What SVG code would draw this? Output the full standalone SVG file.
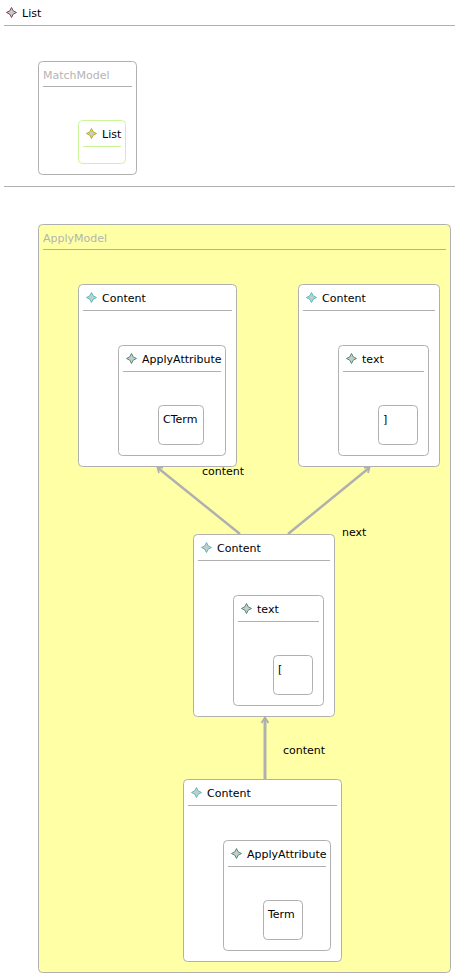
<svg xmlns="http://www.w3.org/2000/svg" width="456" height="979" viewBox="0 0 456 979">
<style>
text{font-family:"DejaVu Sans",Verdana,sans-serif;font-size:11px;fill:#000}
text.dim{fill:#b4b4b4}
.box{fill:#fff;stroke:#b0b0b0;stroke-width:1}
.sep{stroke:#b0b0b0;stroke-width:1;fill:none}
.edge{stroke:#b0b0b0;stroke-width:2.500;fill:none}
.head{stroke:#b0b0b0;stroke-width:1.800;fill:none}
.star{fill:#c4cccc;stroke-width:1}
</style>
<defs>
<path id="star" d="M0-5L1.700-1.700 5 0 1.700 1.700 0 5-1.700 1.700-5 0-1.700-1.700Z"/>
</defs>
<rect width="456" height="979" fill="#fff"/>
<g id="header">
<use href="#star" x="11.500" y="12.500" class="star" stroke="#8c3a5e"/>
<text x="22" y="17">List</text>
<path class="sep" d="M4 25.500H455M4 186.500H455"/>
</g>
<g id="MatchModel">
<rect class="box" x="38.500" y="61.500" width="98" height="113" rx="4"/>
<text class="dim" x="43" y="79">MatchModel</text>
<path class="sep" d="M43 86.500H132"/>
</g>
<g id="MatchList">
<rect x="78.500" y="120.500" width="47" height="43" rx="4" fill="#fff" stroke="#ccf59a"/>
<use href="#star" x="91.500" y="133.500" class="star" stroke="#b5b02a"/>
<text x="102" y="138">List</text>
<path d="M83 146.500H121" fill="none" stroke="#ccf59a"/>
</g>
<g id="ApplyModel">
<rect x="38.500" y="224.500" width="412" height="748" rx="4" fill="#ffffa6" stroke="#b0b0b0"/>
<text class="dim" x="43" y="242">ApplyModel</text>
<path class="sep" d="M43 249.500H446"/>
</g>
<g id="connectors">
<path class="edge" d="M240 534L158 468M288 534L369 468"/>
<path class="edge" stroke-width="3" style="stroke-width:3" d="M265 779V719"/>
<path class="head" d="M163 467.500L157.500 467.500 159 473M364 467.500L369.500 467.500 368 473M261.500 723L265 717.500 268.500 723"/>
</g>
<g id="Content1">
<rect class="box" x="78.500" y="284.500" width="158" height="182" rx="4"/>
<use href="#star" x="91.500" y="297.500" class="star" stroke="#5fbcbc"/>
<text x="102" y="302">Content</text>
<path class="sep" d="M83 310.500H232"/>
</g>
<g id="ApplyAttribute1">
<rect class="box" x="118.500" y="345.500" width="107" height="110" rx="4"/>
<use href="#star" x="131.500" y="358.500" class="star" stroke="#4f8f7c"/>
<text x="142" y="363">ApplyAttribute</text>
<path class="sep" d="M123 371.500H221"/>
</g>
<g id="CTerm">
<rect class="box" x="158.500" y="405.500" width="45" height="39" rx="4"/>
<text x="163" y="423">CTerm</text>
</g>
<g id="Content2">
<rect class="box" x="298.500" y="284.500" width="141" height="182" rx="4"/>
<use href="#star" x="311.500" y="297.500" class="star" stroke="#5fbcbc"/>
<text x="322" y="302">Content</text>
<path class="sep" d="M303 310.500H435"/>
</g>
<g id="text1">
<rect class="box" x="338.500" y="345.500" width="90" height="110" rx="4"/>
<use href="#star" x="351.500" y="358.500" class="star" stroke="#4f8f7c"/>
<text x="362" y="363">text</text>
<path class="sep" d="M343 371.500H424"/>
</g>
<g id="closeBracket">
<rect class="box" x="378.500" y="405.500" width="39" height="39" rx="4"/>
<text x="383" y="423">]</text>
</g>
<g id="Content3">
<rect class="box" x="193.500" y="534.500" width="141" height="182" rx="4"/>
<use href="#star" x="206.500" y="547.500" class="star" stroke="#5fbcbc"/>
<text x="217" y="552">Content</text>
<path class="sep" d="M198 560.500H330"/>
</g>
<g id="text2">
<rect class="box" x="233.500" y="595.500" width="90" height="110" rx="4"/>
<use href="#star" x="246.500" y="608.500" class="star" stroke="#4f8f7c"/>
<text x="257" y="613">text</text>
<path class="sep" d="M238 621.500H319"/>
</g>
<g id="openBracket">
<rect class="box" x="273.500" y="655.500" width="39" height="39" rx="4"/>
<text x="278" y="673">[</text>
</g>
<g id="Content4">
<rect class="box" x="183.500" y="779.500" width="158" height="182" rx="4"/>
<use href="#star" x="196.500" y="792.500" class="star" stroke="#5fbcbc"/>
<text x="207" y="797">Content</text>
<path class="sep" d="M188 805.500H337"/>
</g>
<g id="ApplyAttribute2">
<rect class="box" x="223.500" y="840.500" width="107" height="110" rx="4"/>
<use href="#star" x="236.500" y="853.500" class="star" stroke="#4f8f7c"/>
<text x="247" y="858">ApplyAttribute</text>
<path class="sep" d="M228 866.500H326"/>
</g>
<g id="Term">
<rect class="box" x="263.500" y="900.500" width="39" height="39" rx="4"/>
<text x="268" y="918">Term</text>
</g>
<g id="edgeLabels">
<text x="202" y="475">content</text>
<text x="342" y="536">next</text>
<text x="283" y="754">content</text>
</g>
</svg>
